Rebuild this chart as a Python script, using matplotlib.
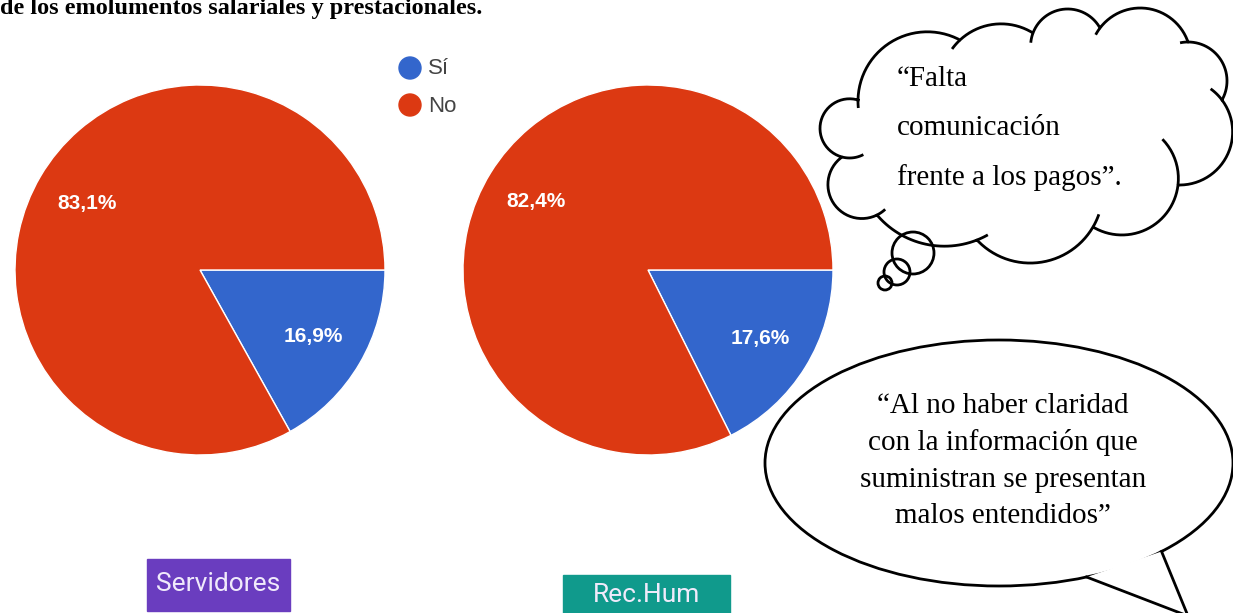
import numpy as np
import matplotlib
matplotlib.use('Agg')
import matplotlib.pyplot as plt
from matplotlib.patches import Circle, Ellipse, Polygon, Rectangle

# survey answers (percent)
categories = ["Sí", "No"]
servidores = [16.9, 83.1]
rec_hum = [17.6, 82.4]
groups = ["Servidores", "Rec.Hum"]

heading = "de los emolumentos salariales y prestacionales."
thought_lines = ["\u201cFalta", "comunicación", "frente a los pagos\u201d."]
speech_lines = ["\u201cAl no haber claridad", "con la información que",
                "suministran se presentan", "malos entendidos\u201d"]

W, H = 1233, 613
pie_colors = ["#3366CC", "#DC3912"]
tag_colors = ["#6A3DBF", "#109A8C"]
SANS = "Liberation Sans"
SERIF = "Liberation Serif"

fig = plt.figure(figsize=(W / 100, H / 100), dpi=100)
ax = fig.add_axes([0, 0, 1, 1])
ax.set_xlim(0, W); ax.set_ylim(H, 0); ax.axis('off')


def pct(p):
    return f"{p:.1f}%".replace(".", ",")


# two pies, pixel centre + radius
R = 185
for vals, cx in zip([servidores, rec_hum], [200, 648]):
    pax = fig.add_axes([(cx - R) / W, (H - 270 - R) / H, 2 * R / W, 2 * R / H])
    pax.pie(vals, colors=pie_colors, startangle=0, counterclock=False,
            autopct=pct, pctdistance=0.71,
            wedgeprops=dict(edgecolor="white", linewidth=1),
            textprops=dict(color="white", fontsize=15, fontweight='bold',
                           family=SANS))
    pax.set_xlim(-1, 1); pax.set_ylim(-1, 1); pax.set_aspect('auto')
    pax.axis('off')

# legend
for i, (lab, col) in enumerate(zip(categories, pie_colors)):
    y = 68 + 37 * i
    ax.add_patch(Circle((410, y), 11, color=col, zorder=3))
    ax.text(428, y + 1, lab, fontsize=16, family=SANS, color="#444444",
            va='center', ha='left')

# group tags under the pies
for lab, col, (x0, y0, x1, y1) in zip(groups, tag_colors,
                                      [(147, 559, 290, 611), (563, 575, 730, 616)]):
    ax.add_patch(Rectangle((x0, y0), x1 - x0, y1 - y0, color=col, zorder=3))
    ax.text((x0 + x1) / 2, (y0 + y1) / 2 - 1, lab, fontsize=19, family="Roboto",
            color="#F0EAFB", ha='center', va='center', zorder=4)

# heading, cut at the top edge
ax.text(0, 14, heading, fontsize=17.5, fontweight='bold', family=SERIF,
        va='baseline', ha='left', color="black")


# thought cloud: each bump is an arc from cusp to cusp through a peak
def circle3(p, q, s):
    (x1, y1), (x2, y2), (x3, y3) = p, q, s
    d = 2 * (x1 * (y2 - y3) + x2 * (y3 - y1) + x3 * (y1 - y2))
    ux = ((x1**2 + y1**2) * (y2 - y3) + (x2**2 + y2**2) * (y3 - y1)
          + (x3**2 + y3**2) * (y1 - y2)) / d
    uy = ((x1**2 + y1**2) * (x3 - x2) + (x2**2 + y2**2) * (x1 - x3)
          + (x3**2 + y3**2) * (x2 - x1)) / d
    return ux, uy, np.hypot(x1 - ux, y1 - uy)


def bump_arc(p, q, s, back=0.0, n=60):
    cx, cy, r = circle3(p, q, s)
    a0 = np.arctan2(p[1] - cy, p[0] - cx)
    aq = np.arctan2(q[1] - cy, q[0] - cx)
    a1 = np.arctan2(s[1] - cy, s[0] - cx)
    span = (a1 - a0) % (2 * np.pi)
    if (aq - a0) % (2 * np.pi) > span:   # peak lies on the other way round
        span -= 2 * np.pi
    sgn = np.sign(span)
    t = np.linspace(a0, a0 + span, n)
    tb = np.linspace(a0 - sgn * back / r, a0, 12)   # back given in pixels
    return (cx + r * np.cos(t), cy + r * np.sin(t),
            cx + r * np.cos(tb), cy + r * np.sin(tb))


cusps = [(858, 100), (960, 40), (1033, 33), (1100, 28), (1188, 42), (1222, 100),
         (1178, 185), (1093, 227), (977, 240), (877, 215), (842, 157)]
peaks = [(910, 34), (997, 24), (1067, 9), (1140, 8), (1227, 80), (1232, 140),
         (1140, 232), (1033, 263), (930, 245), (828, 187), (820, 128)]
backs = [8, 12, 10, 8, 8, 16, 50, 14, 12, 10, 22]

xs, ys = [], []
for i in range(len(cusps)):
    bx, by, ix, iy = bump_arc(cusps[i], peaks[i], cusps[(i + 1) % len(cusps)],
                              back=backs[i])
    xs.append(bx); ys.append(by)
    ax.plot(ix, iy, color="black", linewidth=2, zorder=4, solid_capstyle='butt')
xs = np.concatenate(xs); ys = np.concatenate(ys)
ax.add_patch(Polygon(np.column_stack([xs, ys]), closed=True, facecolor="white",
                     edgecolor="none", zorder=2))
ax.plot(np.append(xs, xs[0]), np.append(ys, ys[0]), color="black",
        linewidth=2, zorder=4)

for cx, cy, r in [(913, 253, 21), (897, 272, 13), (885, 283, 7)]:
    ax.add_patch(Circle((cx, cy), r, fill=False, edgecolor="black",
                        linewidth=2, zorder=5))
for line, yb in zip(thought_lines, [86, 135, 185]):
    ax.text(897, yb, line, fontsize=21, family=SERIF,
            ha='left', va='baseline', zorder=6)

# speech bubble with tail
ecx, ecy, ea, eb = 999, 463, 234, 123
ax.add_patch(Ellipse((ecx, ecy), 2 * ea, 2 * eb, facecolor="white",
                     edgecolor="black", linewidth=2, zorder=2))
t1, t2 = np.radians(68), np.radians(46)
p1 = (ecx + ea * np.cos(t1), ecy + eb * np.sin(t1))
p2 = (ecx + ea * np.cos(t2), ecy + eb * np.sin(t2))
tip = (1188, 616)
ax.add_patch(Polygon([p1, tip, p2], closed=True, facecolor="white",
                     edgecolor="none", zorder=3))
ax.plot([p1[0], tip[0], p2[0]], [p1[1], tip[1], p2[1]], color="black",
        linewidth=2, zorder=4, solid_joinstyle='miter')
for line, yb in zip(speech_lines, [413, 450, 487, 523]):
    ax.text(1003, yb, line, fontsize=21, family=SERIF,
            ha='center', va='baseline', zorder=5)

fig.savefig("out.png", dpi=100)
